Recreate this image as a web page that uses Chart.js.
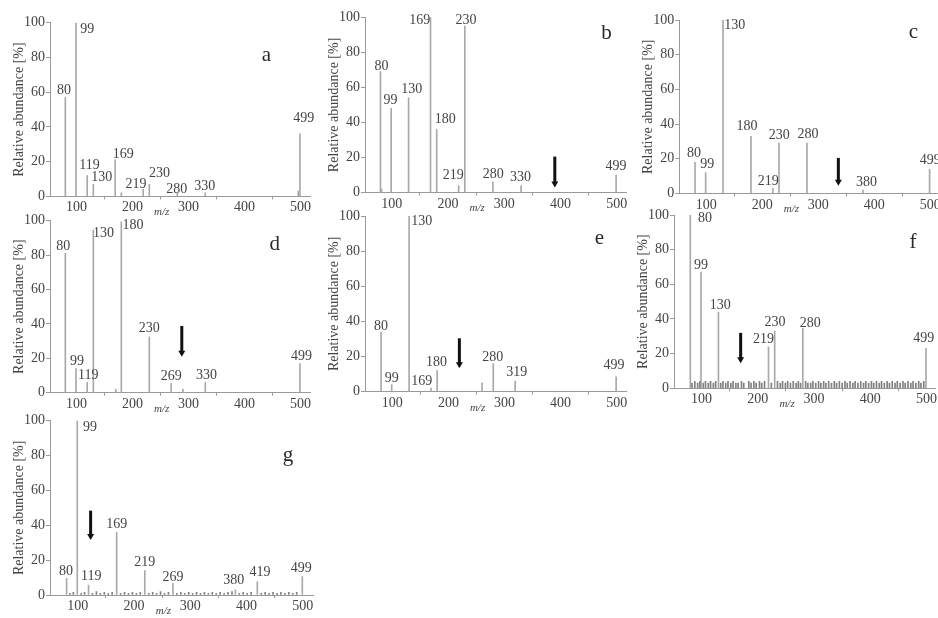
<!DOCTYPE html>
<html><head><meta charset="utf-8">
<script src="https://cdn.jsdelivr.net/npm/chart.js@4.4.1/dist/chart.umd.min.js"></script>
<style>
html,body{margin:0;padding:0;background:#fff;width:938px;height:618px;overflow:hidden}
canvas{position:absolute;left:0;top:0}
</style></head><body>
<canvas id="cv0" width="938" height="618"></canvas>
<canvas id="cv1" width="938" height="618"></canvas>
<canvas id="cv2" width="938" height="618"></canvas>
<canvas id="cv3" width="938" height="618"></canvas>
<canvas id="cv4" width="938" height="618"></canvas>
<canvas id="cv5" width="938" height="618"></canvas>
<canvas id="cv6" width="938" height="618"></canvas>
<script>
// ---------- data ----------
const yTicks = [0, 20, 40, 60, 80, 100];
const xTicks = [100, 200, 300, 400, 500];
const yTitle = 'Relative abundance [%]';
const xTitle = 'm/z';

// peaks: [m/z, relative abundance %]
const aPeaks = [[80,57],[99,100],[119,12],[130,7],[169,21],[180,2],[219,4],[230,7],[280,2],[330,2],[496,3],[499,36]];
const aLabels = ['80','99','119','130','169','219','230','280','330','499'];
const bPeaks = [[80,69],[82,2],[99,48],[130,54],[169,100],[180,36],[219,4],[230,95],[280,6],[330,4],[499,10]];
const bLabels = ['80','99','130','169','180','219','230','280','330','499'];
const cPeaks = [[80,18],[99,12],[130,100],[180,33],[219,3],[230,29],[280,29],[380,2],[499,14]];
const cLabels = ['80','99','130','180','219','230','280','380','499'];
const dPeaks = [[80,81],[99,14],[119,6],[130,94.6],[170,2],[180,99.4],[230,32.5],[269,5.4],[290,2],[330,6],[499,17]];
const dLabels = ['80','99','119','130','180','230','269','330','499'];
const ePeaks = [[80,34],[99,4],[130,100],[169,2],[180,12],[260,5],[280,16],[319,6],[499,8.5]];
const eLabels = ['80','99','130','169','180','280','319','499'];
const fPeaks = [[80,100],[99,67],[130,44],[219,24],[230,33],[280,34.6],[499,23]];
const fNoise = [[83,3],[88,4],[93,3],[97,4],[103,3],[107,4],[112,3],[116,4],[121,3],[125,4],[134,3],[138,4],[143,3],[147,4],[152,3],[156,4],[161,3],[165,3],[171,4],[175,3],[184,4],[188,3],[193,4],[197,3],[203,4],[207,3],[212,4],[224,3],[235,4],[240,3],[244,4],[249,3],[253,4],[258,3],[263,4],[268,3],[272,4],[276,3],[285,4],[289,3],[294,3],[298,4],[303,3],[308,4],[312,3],[317,4],[321,3],[326,4],[331,3],[336,4],[340,3],[345,4],[350,3],[355,4],[359,3],[364,4],[369,3],[373,4],[378,3],[383,4],[388,3],[392,4],[397,3],[402,4],[406,3],[411,4],[416,3],[420,4],[425,3],[430,4],[434,3],[439,4],[444,3],[448,4],[453,3],[458,4],[462,3],[467,4],[472,3],[476,4],[481,3],[486,4],[490,3],[495,4]];
const fLabels = ['80','99','130','219','230','280','499'];
const gPeaks = [[80,9.6],[99,100],[119,5.7],[169,36],[219,14],[269,6.7],[380,3],[419,7.6],[499,10.5]];
const gNoise = [[86,1],[92,1.5],[106,1],[112,1.5],[126,1],[133,2],[140,1],[147,1.5],[154,1],[161,1.5],[176,1],[183,1.5],[190,1],[197,1.5],[204,1],[211,1.5],[226,1],[233,1.5],[240,1],[247,2],[254,1],[261,1.5],[276,1],[283,1.5],[290,1],[297,1.5],[304,1],[311,1.5],[318,1],[325,1.5],[332,1],[339,1.5],[346,1],[353,1.5],[360,1],[367,1.5],[374,2],[387,1],[394,1.5],[401,1],[408,1.5],[426,1],[433,1.5],[440,1],[447,1.5],[454,1],[461,1.5],[468,1],[475,1.5],[482,1],[489,1.5]];
const gLabels = ['80','99','119','169','219','269','380','419','499'];

// arrows: [m/z, start %, tip %]
const bArrow = [390, 20.5, 2.9];
const cArrow = [336, 20.5, 4.4];
const dArrow = [288, 38.8, 20.9];
const eArrow = [219.6, 30.4, 13.3];
const fArrow = [169.5, 32, 14.4];
const gArrow = [122.7, 48.4, 31.5];

// ---------- layout (label centres in data space, panel boxes in px) ----------
const layoutCfg = [
  {letter:'a', peaks:aPeaks, noise:[], labels:aLabels, arrow:null,
   labelAt:[[77.6,61],[119,96],[123,18],[145,11],[183.5,24],[206,7],[248,13],[279,4],[329,6],[506,45]],
   letterAt:[439,81], axisX:50, right:310, top:22.7, bottom:196.4, xMin:52.6, xMax:517},
  {letter:'b', peaks:bPeaks, noise:[], labels:bLabels, arrow:bArrow,
   labelAt:[[82,72],[98,52.6],[135.5,58.7],[150,98],[195,42],[209.6,9.6],[232,98],[280.7,10.5],[329,8.6],[499,15]],
   letterAt:[482,90.8], axisX:365, right:626.8, top:17.3, bottom:192.5, xMin:52.5, xMax:518},
  {letter:'c', peaks:cPeaks, noise:[], labels:cLabels, arrow:cArrow,
   labelAt:[[78,23],[102,17],[151,97],[173,38.5],[211,7.3],[230.5,33.4],[282,34],[386.5,6.4],[500,19]],
   letterAt:[470,93], axisX:679.3, right:938, top:20, bottom:193.5, xMin:51.9, xMax:514},
  {letter:'d', peaks:dPeaks, noise:[], labels:dLabels, arrow:dArrow,
   labelAt:[[76.4,85],[101,18],[121,10.3],[148,92.6],[201,97.5],[230,37.4],[269,9.3],[332,10.3],[502,21.3]],
   letterAt:[454,86], axisX:50, right:310, top:220.7, bottom:392.7, xMin:52.6, xMax:517},
  {letter:'e', peaks:ePeaks, noise:[], labels:eLabels, arrow:eArrow,
   labelAt:[[80,37],[99,7.6],[152.5,96.8],[152.5,5.7],[179,17],[279,19.5],[322,10.8],[495,15.2]],
   letterAt:[469,87.3], axisX:365, right:626.8, top:216, bottom:391.7, xMin:51.4, xMax:518},
  {letter:'f', peaks:fPeaks, noise:fNoise, labels:fLabels, arrow:fArrow,
   labelAt:[[106,98],[99,71],[133,48],[210,28],[230.5,38],[293,37.5],[495,29]],
   letterAt:[476,84], axisX:674, right:935, top:215, bottom:388.3, xMin:51, xMax:515},
  {letter:'g', peaks:gPeaks, noise:gNoise, labels:gLabels, arrow:gArrow,
   labelAt:[[79,13.4],[121.5,96],[124,10.5],[169,40.7],[219,19],[269,10],[377,8.6],[424,12.8],[497,15.3]],
   letterAt:[473.5,80], axisX:50, right:313, top:420.7, bottom:595, xMin:50.5, xMax:518}
];

const SERIF = '"Liberation Serif","Times New Roman","DejaVu Serif",serif';
const TEXT = '#444';
const AXIS = '#9a9a9a';

const annot = {
  id: 'annot',
  afterDraw(chart, args, opts) {
    const p = layoutCfg[opts.panel];
    const {ctx} = chart; const x = chart.scales.x, y = chart.scales.y;
    ctx.save();
    ctx.textAlign = 'center'; ctx.textBaseline = 'middle';
    ctx.fillStyle = TEXT; ctx.font = '14px ' + SERIF;
    p.labels.forEach((t, i) => {
      const [mx, my] = p.labelAt[i];
      ctx.fillText(t, x.getPixelForValue(mx), y.getPixelForValue(my));
    });
    ctx.fillStyle = '#2a2a2a'; ctx.font = '21px ' + SERIF;
    ctx.fillText(p.letter, x.getPixelForValue(p.letterAt[0]), y.getPixelForValue(p.letterAt[1]));
    ctx.fillStyle = TEXT; ctx.font = 'italic 11px ' + SERIF;
    ctx.fillText(xTitle, x.getPixelForValue(252), y.getPixelForValue(0) + 16);
    if (p.arrow) {
      const [am, y1, y2] = p.arrow;
      const ax = x.getPixelForValue(am), p1 = y.getPixelForValue(y1), p2 = y.getPixelForValue(y2);
      ctx.fillStyle = '#111';
      ctx.fillRect(ax - 1.5, p1, 3, (p2 - p1) - 5);
      ctx.beginPath();
      ctx.moveTo(ax - 3.5, p2 - 6); ctx.lineTo(ax + 3.5, p2 - 6); ctx.lineTo(ax, p2);
      ctx.closePath(); ctx.fill();
    }
    ctx.restore();
  }
};

layoutCfg.forEach((p, i) => {
  const pts = p.peaks.map(([m, v]) => ({x: m, y: v})).concat(p.noise.map(([m, v]) => ({x: m, y: v})));
  const cols = p.peaks.map(() => '#a9a9a9').concat(p.noise.map(() => '#808080'));
  new Chart(document.getElementById('cv' + i), {
    type: 'bar',
    data: {datasets: [{data: pts, backgroundColor: cols, barThickness: 1, borderWidth: 0}]},
    options: {
      responsive: false, animation: false, events: [],
      layout: {padding: {left: p.axisX - 50, top: p.top, right: 938 - p.right, bottom: 618 - 24 - p.bottom}},
      plugins: {legend: {display: false}, tooltip: {enabled: false}, annot: {panel: i}},
      scales: {
        x: {
          type: 'linear', min: p.xMin, max: p.xMax, offset: false,
          grid: {display: true, drawOnChartArea: false, drawTicks: true, tickLength: 3, color: AXIS},
          border: {display: true, color: AXIS, width: 1},
          ticks: {font: {family: SERIF, size: 14}, color: TEXT, padding: 0, includeBounds: false, maxRotation: 0, autoSkip: false},
          afterBuildTicks: s => { s.ticks = xTicks.map(v => ({value: v})); },
          afterFit: s => { s.height = 24; s.paddingLeft = 0; s.paddingRight = 0; s.paddingTop = 0; s.paddingBottom = 0; }
        },
        y: {
          type: 'linear', min: 0, max: 100,
          grid: {display: true, drawOnChartArea: false, drawTicks: true, tickLength: 4, color: AXIS},
          border: {display: true, color: AXIS, width: 1},
          ticks: {font: {family: SERIF, size: 14}, color: TEXT, padding: 1, includeBounds: false, autoSkip: false},
          title: {display: true, text: yTitle, font: {family: SERIF, size: 14}, color: TEXT, padding: {top: 10.5, bottom: 0}},
          afterBuildTicks: s => { s.ticks = yTicks.map(v => ({value: v})); },
          afterFit: s => { s.width = 50; s.paddingLeft = 0; s.paddingRight = 0; s.paddingTop = 0; s.paddingBottom = 0; }
        }
      }
    },
    plugins: [annot]
  });
});
</script>
</body></html>
